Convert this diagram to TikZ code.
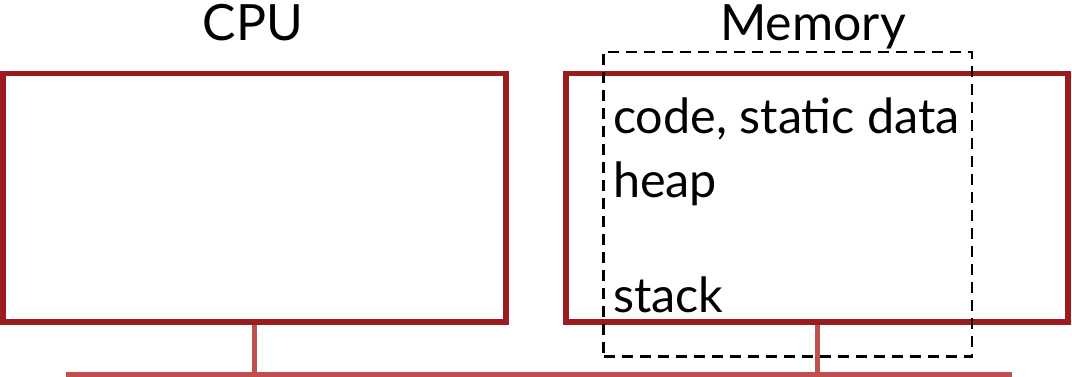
\documentclass[tikz,border=0pt]{standalone}
\usepackage{fontspec}
\setmainfont{Lato}
\definecolor{boxred}{RGB}{155,27,30}
\definecolor{busred}{RGB}{192,80,77}
\begin{document}
\begin{tikzpicture}[x=1pt,y=-1pt,
  unit/.style={draw=boxred, line width=5.5pt, inner sep=0pt,
    minimum width=503pt, minimum height=248.5pt},
  space/.style={draw=black, line width=2.7pt, dash pattern=on 11pt off 7pt,
    inner sep=0pt, minimum width=368.5pt, minimum height=304.7pt},
  link/.style={draw=busred, line width=5pt},
  title/.style={font=\fontsize{50}{60}\selectfont, anchor=base, inner sep=0pt},
  region/.style={font=\fontsize{48.5}{58}\selectfont, anchor=base west, inner sep=0pt}]
  \useasboundingbox (0,0) rectangle (1072,376);

  % processor and memory units
  \node[unit] (cpu) at (254.25,197.75) {};
  \node[unit, minimum width=502pt] (mem) at (817,197.75) {};
  \node[title] (cpulabel) at (253,40) {CPU};
  \node[title] (memlabel) at (813,40) {Memory};

  % address space of a process
  \node[space] (addr) at (787.75,204.35) {};
  \node[region] (code) at (613,133) {code, static data};
  \node[region] (heap) at (613,197) {heap};
  \node[region] (stack) at (613,312) {stack};

  % system bus
  \coordinate (busL) at (65.5,374);
  \coordinate (busR) at (1011.7,374);
  \draw[link] (busL) -- (busR);
  \draw[link] (cpu.south) -- (cpu.south |- busL);
  \draw[link] (mem.south) -- (mem.south |- busL);
\end{tikzpicture}
\end{document}
